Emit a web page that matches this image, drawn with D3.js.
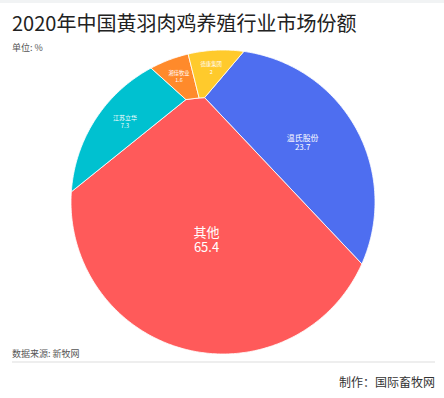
<!DOCTYPE html>
<html>
<head>
<meta charset="utf-8">
<script src="https://cdn.jsdelivr.net/npm/d3@7"></script>
<style>
  body { margin: 0; background: #fff; }
  text { font-family: "Noto Sans CJK SC", "Noto Sans", sans-serif; }
</style>
</head>
<body>
<svg id="chart" width="444" height="398"></svg>
<script>
const names = ["温氏股份", "其他", "江苏立华", "湘佳牧业", "德康集团"];
const values = [23.7, 65.4, 7.3, 1.6, 2];
const colors = ["#4e6ef0", "#ff5a5a", "#00c1d0", "#ff8a2b", "#ffca2c"];
// starting seeds of the power diagram, in units of the radius
const seeds = [[0.349, 0.070], [0, 0.4], [-0.3135, 0.0105], [-0.0785, -0.250], [-0.0397, -0.2597]];

const width = 444, height = 398;
const cx = 223, cy = 202, r = 152;

const svg = d3.select('#chart');

svg.append('rect')
    .attr('width', width)
    .attr('height', 3)
    .attr('fill', '#f1f3f4');

// title + unit
svg.append('text')
    .attr('x', 12).attr('y', 31)
    .attr('font-size', 20)
    .attr('fill', '#222')
    .text('2020年中国黄羽肉鸡养殖行业市场份额');

svg.append('text')
    .attr('x', 12).attr('y', 51)
    .attr('font-size', 9)
    .attr('fill', '#555')
    .text('单位: %');

// clip circle as polygon
const circle = d3.range(360).map(k => {
    const a = 2 * Math.PI * k / 360;
    return [cx + r * Math.cos(a), cy + r * Math.sin(a)];
});

const sites = seeds.map(s => [cx + s[0] * r, cy + s[1] * r]);

// keep the part of poly where a*x + b*y <= c
function clipHalf(poly, a, b, c) {
    const out = [];
    for (let i = 0; i < poly.length; i++) {
        const p = poly[i], q = poly[(i + 1) % poly.length];
        const fp = a * p[0] + b * p[1] - c;
        const fq = a * q[0] + b * q[1] - c;
        if (fp <= 0) out.push(p);
        if ((fp < 0 && fq > 0) || (fp > 0 && fq < 0)) {
            const t = fp / (fp - fq);
            out.push([p[0] + t * (q[0] - p[0]), p[1] + t * (q[1] - p[1])]);
        }
    }
    return out;
}

function cells(weights) {
    return sites.map((si, i) => {
        let poly = circle;
        sites.forEach((sj, j) => {
            if (i === j || poly.length < 3) return;
            const a = 2 * (sj[0] - si[0]), b = 2 * (sj[1] - si[1]);
            const c = (sj[0] ** 2 + sj[1] ** 2) - (si[0] ** 2 + si[1] ** 2) - weights[j] + weights[i];
            poly = clipHalf(poly, a, b, c);
        });
        return poly;
    });
}

function areas(weights) {
    return cells(weights).map(p => p.length < 3 ? 0 : Math.abs(d3.polygonArea(p)));
}

// solve weights so that each cell's area matches its share
const total = Math.abs(d3.polygonArea(circle));
const sum = d3.sum(values);
const targets = values.map(v => v / sum * total);
let weights = values.map(() => 0);

for (let iter = 0; iter < 400; iter++) {
    const cur = areas(weights);
    const next = weights.slice();
    weights.forEach((w, i) => {
        const h = 1;
        const bumped = weights.slice();
        bumped[i] += h;
        const d = (areas(bumped)[i] - cur[i]) / h;
        const step = d > 1e-6 ? (targets[i] - cur[i]) / d : 200;
        next[i] = w + 0.5 * step;
    });
    weights = next;
}

const polys = cells(weights);
const line = d3.line().curve(d3.curveLinearClosed);

svg.append('g')
    .selectAll('path')
    .data(polys)
    .join('path')
    .attr('d', d => line(d))
    .attr('fill', (d, i) => colors[i])
    .attr('stroke', '#fff')
    .attr('stroke-width', 0.8);

// labels, sized by value, centred on each cell
const fontSize = d3.scaleLinear().domain(d3.extent(values)).range([5.3, 13]);
const gap = fs => Math.max(fs + 1.8, fs * 1.18);

const labels = svg.append('g')
    .selectAll('text')
    .data(polys)
    .join('text')
    .attr('text-anchor', 'middle')
    .attr('fill', '#fff')
    .attr('font-size', (d, i) => fontSize(values[i]))
    .attr('transform', d => {
        const c = d3.polygonCentroid(d);
        return `translate(${c[0]},${c[1]})`;
    });

labels.append('tspan')
    .attr('x', 0)
    .attr('y', (d, i) => {
        const fs = fontSize(values[i]);
        return 0.38 * fs - gap(fs) / 2;
    })
    .text((d, i) => names[i]);

labels.append('tspan')
    .attr('x', 0)
    .attr('dy', (d, i) => gap(fontSize(values[i])))
    .text((d, i) => values[i]);

// footer
svg.append('text')
    .attr('x', 12).attr('y', 357)
    .attr('font-size', 9)
    .attr('fill', '#555')
    .text('数据来源: 新牧网');

svg.append('line')
    .attr('x1', 12).attr('x2', 435)
    .attr('y1', 362).attr('y2', 362)
    .attr('stroke', '#ddd')
    .attr('stroke-width', 1);

svg.append('text')
    .attr('x', 435).attr('y', 387)
    .attr('text-anchor', 'end')
    .attr('font-size', 12)
    .attr('fill', '#333')
    .text('制作：国际畜牧网');
</script>
</body>
</html>
